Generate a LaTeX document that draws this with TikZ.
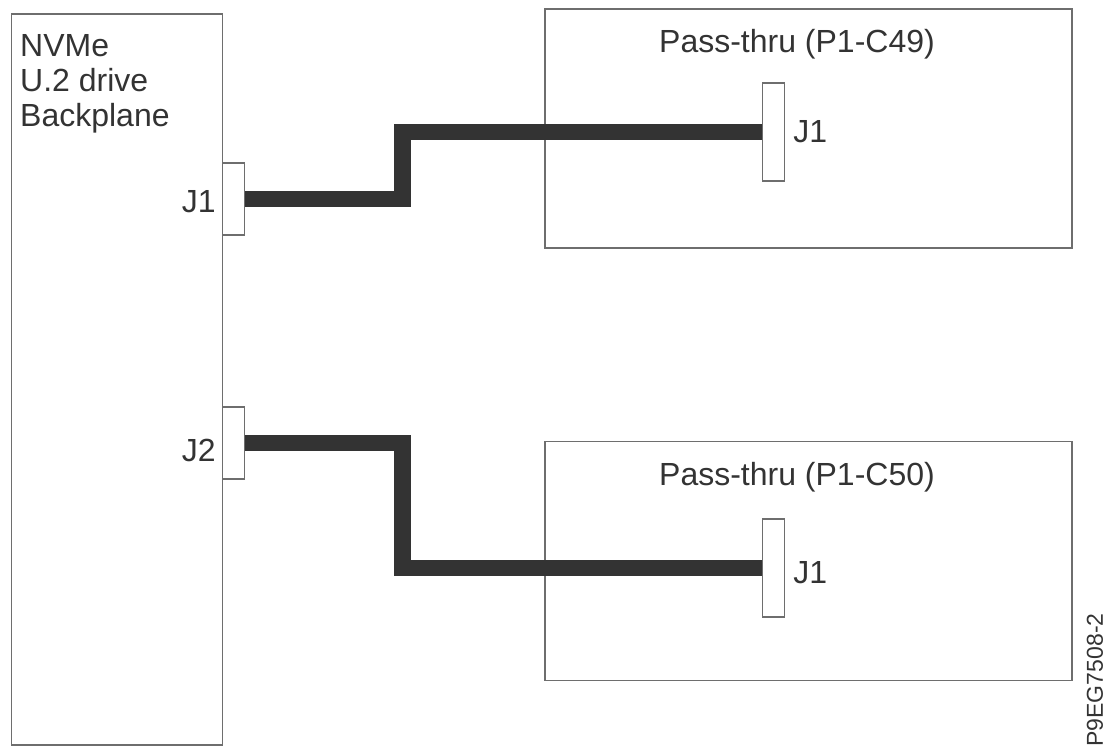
\documentclass[tikz,border=0pt]{standalone}
\usepackage{fontspec}
\setmainfont{Liberation Sans}
\usetikzlibrary{positioning}
\definecolor{inkgray}{HTML}{333333}
\definecolor{framegray}{HTML}{6E6E6E}

\begin{document}
\begin{tikzpicture}[x=1pt, y=-1pt, node distance=8pt,
                    board/.style={draw=framegray, line width=1.6pt, inner sep=0pt},
                    conn/.style={draw=framegray, fill=white, line width=1.3pt, inner sep=0pt, minimum width=22pt},
                    lbl/.style={text=inkgray, inner sep=0pt, font=\fontsize{32}{35}\selectfont},
                    cable/.style={draw=inkgray, line width=16.5pt}]
\useasboundingbox (0,0) rectangle (1106,753);

% board nodes
\node[board, minimum width=211pt, minimum height=731pt] (backplane) at (117,379.5) {};
\node[board, minimum width=527pt, minimum height=239pt] (pass49) at (808.5,128.5) {};
\node[board, minimum width=527pt, minimum height=239pt] (pass50) at (808.5,561) {};

% board titles
\node[lbl, align=left, anchor=north west] (bptitle) at (20,34.5) {NVMe\\U.2 drive\\Backplane};
\node[lbl, anchor=base] (title49) at (797,52) {Pass-thru (P1-C49)};
\node[lbl, anchor=base] (title50) at (797,485) {Pass-thru (P1-C50)};

% connector nodes
\node[conn, minimum height=72pt] (bpj1) at (233.5,199) {};
\node[conn, minimum height=72pt] (bpj2) at (233.5,443) {};
\node[conn, minimum height=98pt] (pj49) at (773.5,132) {};
\node[conn, minimum height=98pt] (pj50) at (773.5,568) {};

% connector labels
\node[lbl, yshift=-3pt] (bpj1lbl) [left=6pt of bpj1] {J1};
\node[lbl, yshift=-7pt] (bpj2lbl) [left=6pt of bpj2] {J2};
\node[lbl] (pj49lbl) [right=of pj49] {J1};
\node[lbl, yshift=-5pt] (pj50lbl) [right=of pj50] {J1};

% cables
\coordinate (bend) at (402.5,0);
\draw[cable] (bpj1.east) -| (bend |- pj49.west) -- (pj49.west);
\draw[cable] (bpj2.east) -| (bend |- pj50.west) -- (pj50.west);

% figure id
\node[lbl, rotate=90, font=\fontsize{23}{26}\selectfont] (figid) at (1095,680) {P9EG7508-2};

\end{tikzpicture}
\end{document}
